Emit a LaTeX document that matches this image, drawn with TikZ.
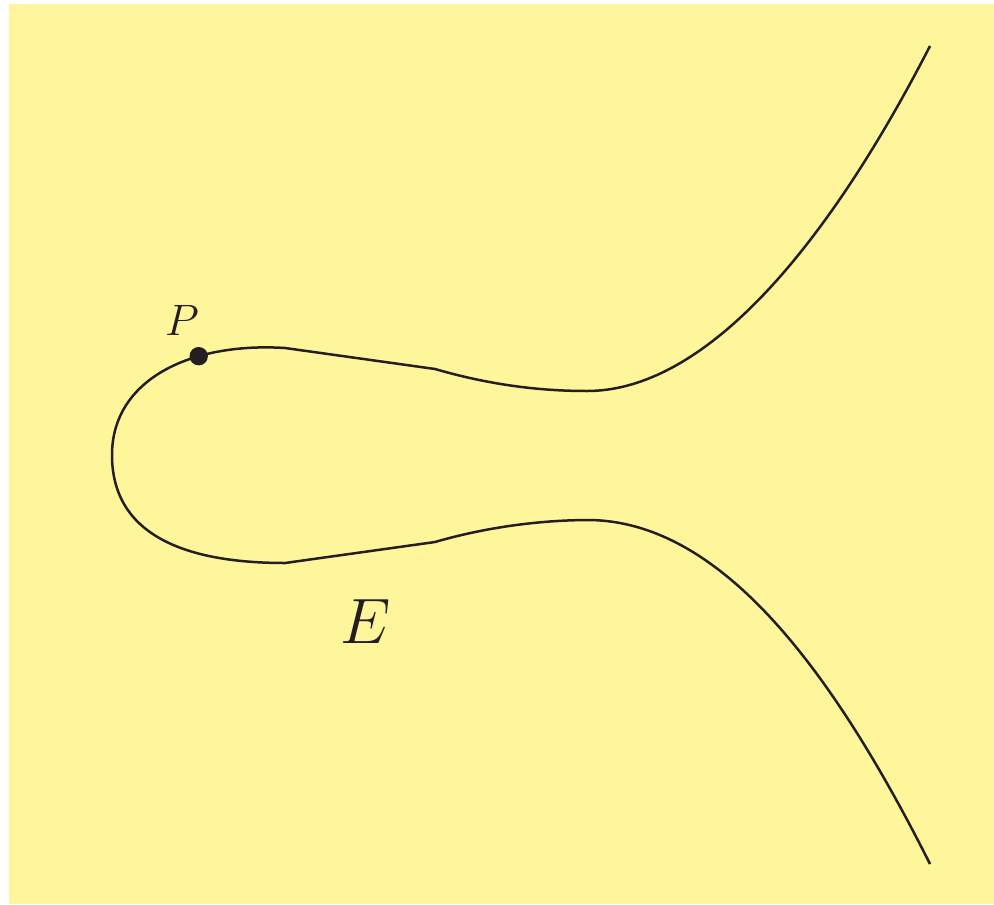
\documentclass[tikz,border=0pt]{standalone}
\usepackage{amsmath,amssymb}
\usepackage{xcolor}
\usepackage{tikz}
\definecolor{bgyellow}{RGB}{255,246,155}
\definecolor{curveink}{RGB}{35,31,32}

\begin{document}
\begin{tikzpicture}[x=0.5pt,y=-0.5pt]
\useasboundingbox (0,0) rectangle (994,904);
\fill[bgyellow] (9,4) rectangle (994,904);

% the curve E
\draw[line width=1.25pt,curveink,line join=round]
  (930,46) .. controls (820,260) and (700,391) .. (587,391)
  .. controls (540,391) and (490,385) .. (435,369)
  -- (285,348)
  .. controls (190,342) and (112,380) .. (112,455) coordinate[pos=0.33] (p)
  .. controls (112,535) and (185,563) .. (285,563)
  -- (435,542)
  .. controls (490,526) and (545,520) .. (590,520)
  .. controls (715,522) and (825,655) .. (930,864);

\node[curveink,font=\Huge,scale=1.29] (lblE) at (366,622) {$E$};

\fill[curveink] (p) circle (4.6pt);
\node[curveink,font=\huge,scale=1.06] (lblP) at (182,320) {$P$};
\end{tikzpicture}
\end{document}
